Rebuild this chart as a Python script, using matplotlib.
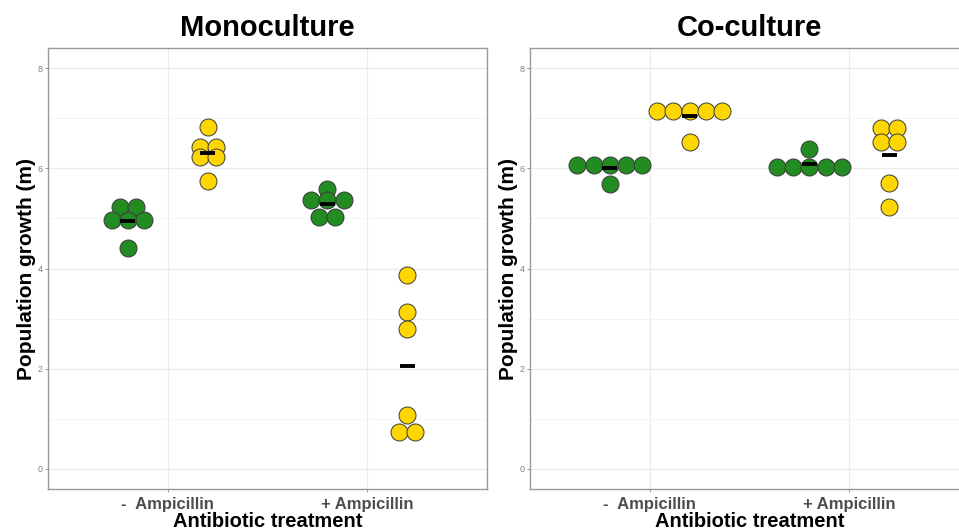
import numpy as np
import matplotlib
matplotlib.use("Agg")
import matplotlib.pyplot as plt

plt.rcParams['font.family'] = ['Liberation Sans', 'DejaVu Sans']

# ---- data ----
treatments = ["-  Ampicillin", "+ Ampicillin"]
panel_titles = ["Monoculture", "Co-culture"]

mono_green_minus = [5.22, 5.22, 4.96, 4.96, 4.96, 4.41]
mono_yellow_minus = [6.83, 6.43, 6.43, 6.22, 6.22, 5.75]
mono_green_plus = [5.59, 5.36, 5.36, 5.36, 5.03, 5.03]
mono_yellow_plus = [3.87, 3.13, 2.80, 1.08, 0.74, 0.74]

co_green_minus = [6.07, 6.07, 6.07, 6.07, 6.07, 5.69]
co_yellow_minus = [7.14, 7.14, 7.14, 7.14, 7.14, 6.53]
co_green_plus = [6.38, 6.03, 6.03, 6.03, 6.03, 6.03]
co_yellow_plus = [6.81, 6.81, 6.53, 6.53, 5.70, 5.22]

yticks = [0, 2, 4, 6, 8]

GREEN = "#228B22"
YELLOW = "#FFD700"
DODGE = 0.2
DOT_W = 0.081
BAR_W = 0.075

panels = [
    [(mono_green_minus, mono_yellow_minus), (mono_green_plus, mono_yellow_plus)],
    [(co_green_minus, co_yellow_minus), (co_green_plus, co_yellow_plus)],
]

fig = plt.figure(figsize=(9.59, 5.30), dpi=100)
W, H = 959, 530
ax_w, ax_h = 439, 441
bottom = H - 489
lefts = [48, 530]


def draw_dots(ax, xc, vals, color):
    vals = np.asarray(vals)
    uniq = []
    for v in vals:
        if v not in uniq:
            uniq.append(v)
    for v in uniq:
        n = int(np.sum(vals == v))
        xs = xc + (np.arange(n) - (n - 1) / 2) * DOT_W
        ax.scatter(xs, [v] * n, s=150, c=color, edgecolors="#3a3a3a",
                   linewidths=0.7, zorder=3)
    m = vals.mean()
    ax.plot([xc - BAR_W / 2, xc + BAR_W / 2], [m, m], color="black",
            lw=2.8, solid_capstyle="butt", zorder=5)


for p, (left, title) in enumerate(zip(lefts, panel_titles)):
    ax = fig.add_axes([left / W, bottom / H, ax_w / W, ax_h / H])
    for i, (g, y) in enumerate(panels[p]):
        xc = i + 1
        draw_dots(ax, xc - DODGE, g, GREEN)
        draw_dots(ax, xc + DODGE, y, YELLOW)
    ax.set_xlim(0.4, 2.6)
    ax.set_ylim(-0.4, 8.4)
    ax.set_xticks([1, 2])
    ax.set_xticklabels(treatments, fontsize=12, fontweight="bold", color="#4D4D4D")
    ax.set_yticks(yticks)
    ax.set_yticklabels([str(t) for t in yticks], fontsize=6.5, color="#808080")
    ax.set_yticks([1, 3, 5, 7], minor=True)
    ax.grid(True, which="major", color="#EBEBEB", lw=0.9, zorder=0)
    ax.grid(True, which="minor", axis="y", color="#F2F2F2", lw=0.6, zorder=0)
    ax.set_axisbelow(True)
    ax.tick_params(axis="both", which="major", length=2.5, width=0.6, color="#888888")
    ax.tick_params(axis="y", pad=1.5)
    ax.tick_params(axis="x", pad=3)
    ax.tick_params(which="minor", length=0)
    for s in ax.spines.values():
        s.set_color("#999999")
        s.set_linewidth(1.0)
    ax.set_title(title, fontsize=21, fontweight="bold", pad=8.5)
    ax.set_xlabel("Antibiotic treatment", fontsize=14.5, fontweight="bold", labelpad=0)
    ax.set_ylabel("Population growth (m)", fontsize=15, fontweight="bold", labelpad=1)

fig.savefig("out.png", dpi=100)
